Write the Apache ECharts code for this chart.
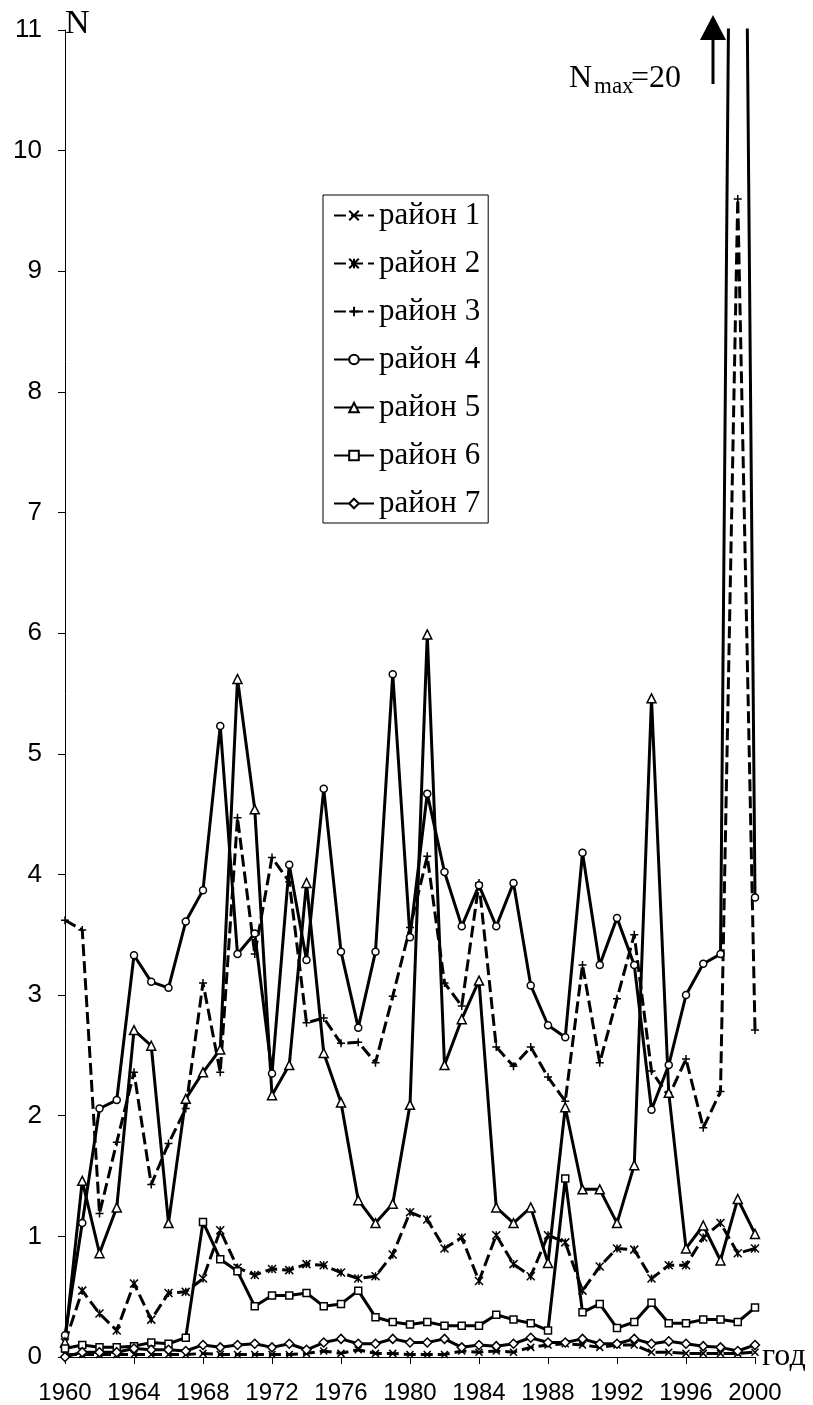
<!DOCTYPE html>
<html>
<head>
<meta charset="utf-8">
<script src="https://cdn.jsdelivr.net/npm/echarts@6/dist/echarts.min.js"></script>
<style>
  html, body { margin: 0; padding: 0; background: #fff; }
  #chart { width: 813px; height: 1405px; }
</style>
</head>
<body>
<div id="chart"></div>
<script>
// years 1960..2000
const years = [1960, 1961, 1962, 1963, 1964, 1965, 1966, 1967, 1968, 1969,
  1970, 1971, 1972, 1973, 1974, 1975, 1976, 1977, 1978, 1979,
  1980, 1981, 1982, 1983, 1984, 1985, 1986, 1987, 1988, 1989,
  1990, 1991, 1992, 1993, 1994, 1995, 1996, 1997, 1998, 1999, 2000]

const rayon1 = [0.02, 0.02, 0.02, 0.02, 0.02, 0.02, 0.02, 0.02, 0.03, 0.02,
  0.02, 0.02, 0.02, 0.02, 0.03, 0.05, 0.03, 0.06, 0.03, 0.03,
  0.02, 0.02, 0.02, 0.05, 0.04, 0.05, 0.04, 0.08, 0.10, 0.11,
  0.10, 0.08, 0.10, 0.10, 0.04, 0.04, 0.03, 0.03, 0.03, 0.03, 0.04]
const rayon2 = [0.12, 0.55, 0.36, 0.22, 0.61, 0.31, 0.53, 0.54, 0.65, 1.05,
  0.74, 0.68, 0.73, 0.72, 0.77, 0.76, 0.70, 0.65, 0.67, 0.85,
  1.20, 1.14, 0.90, 0.99, 0.63, 1.01, 0.77, 0.67, 1.01, 0.95,
  0.55, 0.75, 0.90, 0.89, 0.65, 0.76, 0.76, 0.99, 1.11, 0.86, 0.90]
const rayon3 = [3.62, 3.54, 1.19, 1.78, 2.36, 1.43, 1.77, 2.06, 3.10, 2.36,
  4.47, 3.34, 4.14, 3.94, 2.77, 2.81, 2.60, 2.61, 2.44, 2.99,
  3.56, 4.15, 3.10, 2.91, 3.93, 2.57, 2.41, 2.57, 2.32, 2.12,
  3.25, 2.44, 2.97, 3.50, 2.37, 2.16, 2.47, 1.90, 2.20, 9.60, 2.71]
const rayon4 = [0.18, 1.11, 2.06, 2.13, 3.33, 3.11, 3.06, 3.61, 3.87, 5.23,
  3.34, 3.51, 2.35, 4.08, 3.29, 4.71, 3.36, 2.73, 3.36, 5.66,
  3.48, 4.67, 4.02, 3.57, 3.91, 3.57, 3.93, 3.08, 2.75, 2.65,
  4.18, 3.25, 3.64, 3.25, 2.05, 2.42, 3.00, 3.26, 3.34, 20, 3.81]
const rayon5 = [0.12, 1.46, 0.86, 1.24, 2.71, 2.58, 1.11, 2.14, 2.36, 2.55,
  5.62, 4.54, 2.17, 2.42, 3.93, 2.52, 2.11, 1.30, 1.11, 1.27,
  2.09, 5.99, 2.42, 2.80, 3.12, 1.24, 1.11, 1.24, 0.78, 2.07,
  1.39, 1.39, 1.11, 1.59, 5.46, 2.19, 0.90, 1.09, 0.80, 1.31, 1.02]
const rayon6 = [0.07, 0.10, 0.08, 0.08, 0.09, 0.12, 0.11, 0.16, 1.12, 0.81,
  0.71, 0.42, 0.51, 0.51, 0.53, 0.42, 0.44, 0.55, 0.33, 0.29,
  0.27, 0.29, 0.26, 0.26, 0.26, 0.35, 0.31, 0.28, 0.22, 1.48,
  0.37, 0.44, 0.24, 0.29, 0.45, 0.28, 0.28, 0.31, 0.31, 0.29, 0.41]
const rayon7 = [0.00, 0.04, 0.04, 0.04, 0.07, 0.06, 0.06, 0.05, 0.10, 0.08,
  0.10, 0.11, 0.08, 0.11, 0.06, 0.12, 0.15, 0.11, 0.11, 0.15,
  0.12, 0.12, 0.15, 0.08, 0.10, 0.09, 0.11, 0.16, 0.12, 0.12,
  0.15, 0.11, 0.11, 0.15, 0.11, 0.13, 0.11, 0.09, 0.08, 0.05, 0.10]

const yTicks = [0, 1, 2, 3, 4, 5, 6, 7, 8, 9, 10, 11]

const SERIF = '"Liberation Serif", "Times New Roman", serif'
const SANS = '"Liberation Sans", Arial, sans-serif'

const crossPath = 'path://M0,0L10,10M10,0L0,10'
const starPath = 'path://M0,0L10,10M10,0L0,10M5,0L5,10'
const plusPath = 'path://M5,0L5,10M0,5L10,5'

function pairs(vals) {
  return years.map((y, i) => [y, vals[i]])
}

function makeSeries(name, vals, symbol, size, dashed) {
  return {
    name: name,
    type: 'line',
    data: pairs(vals),
    symbol: symbol,
    symbolSize: size,
    showAllSymbol: true,
    lineStyle: { color: '#000', width: 3, type: dashed ? [12, 5] : 'solid' },
    itemStyle: { color: '#fff', borderColor: '#000', borderWidth: 1.5 },
    emphasis: { disabled: true },
  }
}

const chart = echarts.init(document.getElementById('chart'), null, { renderer: 'canvas' })

chart.setOption({
  animation: false,
  backgroundColor: '#fff',
  grid: { left: 65, right: 58, top: 30, bottom: 48, containLabel: false },
  legend: {
    orient: 'vertical',
    left: 323,
    top: 195,
    padding: [5, 8, 4, 10],
    itemGap: 17,
    itemWidth: 40,
    itemHeight: 12,
    borderColor: '#000',
    borderWidth: 1,
    backgroundColor: '#fff',
    textStyle: { fontFamily: SERIF, fontSize: 31, color: '#000' },
    data: ['район 1', 'район 2', 'район 3', 'район 4', 'район 5', 'район 6', 'район 7'],
  },
  xAxis: {
    type: 'value',
    min: 1960,
    max: 2000,
    interval: 4,
    name: 'год',
    nameLocation: 'end',
    nameGap: 7,
    nameTextStyle: { fontFamily: SERIF, fontSize: 32, color: '#000', align: 'left', verticalAlign: 'middle' },
    axisLine: { show: true, lineStyle: { color: '#000', width: 1 } },
    axisTick: { show: true, length: 7, lineStyle: { color: '#000' } },
    splitLine: { show: false },
    axisLabel: {
      fontFamily: SANS, fontSize: 24, color: '#000', margin: 24,
      formatter: (v) => String(v),
    },
  },
  yAxis: {
    type: 'value',
    min: yTicks[0],
    max: yTicks[yTicks.length - 1],
    interval: 1,
    name: 'N',
    nameLocation: 'end',
    nameGap: 6,
    nameTextStyle: { fontFamily: SERIF, fontSize: 34, color: '#000', align: 'left', verticalAlign: 'middle' },
    axisLine: { show: true, lineStyle: { color: '#000', width: 1 } },
    axisTick: { show: true, length: 7, lineStyle: { color: '#000' } },
    splitLine: { show: false },
    axisLabel: { fontFamily: SANS, fontSize: 26, color: '#000', margin: 23 },
  },
  graphic: [
    { type: 'text', left: 569, top: 63, style: { text: 'N', font: '32px ' + SERIF, fill: '#000' } },
    { type: 'text', left: 594, top: 75, style: { text: 'max', font: '23px ' + SERIF, fill: '#000' } },
    { type: 'text', left: 631, top: 63, style: { text: '=20', font: '32px ' + SERIF, fill: '#000' } },
    { type: 'line', shape: { x1: 713, y1: 38, x2: 713, y2: 84 }, style: { stroke: '#000', lineWidth: 3 } },
    { type: 'polygon', shape: { points: [[713, 15], [700, 40], [726, 40]] }, style: { fill: '#000' } },
  ],
  series: [
    makeSeries('район 1', rayon1, crossPath, 7, true),
    makeSeries('район 2', rayon2, starPath, 8, true),
    makeSeries('район 3', rayon3, plusPath, 8, true),
    makeSeries('район 4', rayon4, 'circle', 7, false),
    makeSeries('район 5', rayon5, 'triangle', 9, false),
    makeSeries('район 6', rayon6, 'rect', 7, false),
    makeSeries('район 7', rayon7, 'diamond', 9, false),
  ],
})
</script>
</body>
</html>
